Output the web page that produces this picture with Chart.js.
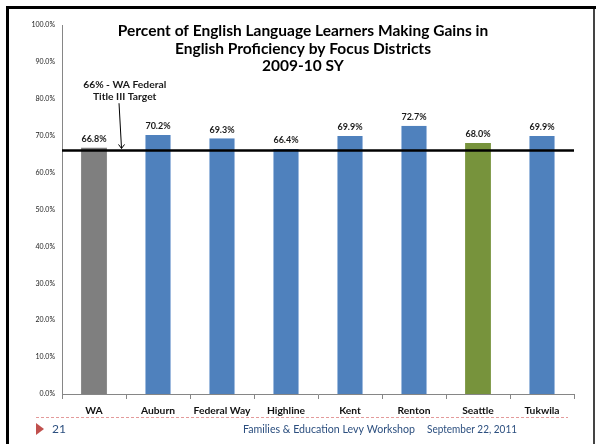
<!DOCTYPE html>
<html><head><meta charset="utf-8">
<script src="https://cdn.jsdelivr.net/npm/chart.js@4"></script>
<style>html,body{margin:0;padding:0;background:#fff}#wrap{position:relative;width:596px;height:444px}</style>
</head><body><div id="wrap"><canvas id="c" width="596" height="444"></canvas></div>
<script>
const categories = ["WA","Auburn","Federal Way","Highline","Kent","Renton","Seattle","Tukwila"];
const values = [66.8,70.2,69.3,66.4,69.9,72.7,68.0,69.9];
const barColors = ["#7f7f7f","#4f81bd","#4f81bd","#4f81bd","#4f81bd","#4f81bd","#77933c","#4f81bd"];
const targetValue = 66;
const titleLines = ["Percent of English Language Learners Making Gains in","English Proficiency by Focus Districts","2009-10 SY"];
const annotationLines = ["66% - WA Federal","Title III Target"];
const footerNumber = "21";
const footerLeft = "Families & Education Levy Workshop";
const footerRight = "September 22, 2011";
const FONT = "Lato, 'DejaVu Sans', sans-serif";

const overlay = {
  id:'overlay',
  afterDatasetsDraw(chart){
    const ctx = chart.ctx, a = chart.chartArea, xs = chart.scales.x, ys = chart.scales.y;
    ctx.save();
    ctx.fillStyle = '#1a1a1a'; ctx.font = 'bold 9px ' + FONT; ctx.textAlign='center'; ctx.textBaseline='middle';
    const meta = chart.getDatasetMeta(0);
    meta.data.forEach((b,i)=>{ ctx.fillText(values[i].toFixed(1)+'%', b.x, b.y-8.5); });
    const ty = ys.getPixelForValue(targetValue);
    ctx.strokeStyle='#000'; ctx.lineWidth=2.5;
    ctx.beginPath(); ctx.moveTo(a.left, ty); ctx.lineTo(a.right, ty); ctx.stroke();
    const x0 = xs.getPixelForValue(0), x1 = xs.getPixelForValue(1);
    const ax = x0 + (x1-x0)*0.43;
    ctx.font = 'bold 10.3px ' + FONT; ctx.fillStyle='#1a1a1a';
    const cx = x0 + (x1-x0)*0.48;
    ctx.fillText(annotationLines[0], cx, ys.getPixelForValue(83.7));
    ctx.fillText(annotationLines[1], cx, ys.getPixelForValue(80.7));
    ctx.strokeStyle='#000'; ctx.lineWidth=1;
    const ay0 = ys.getPixelForValue(78.8);
    ctx.beginPath(); ctx.moveTo(ax-2.5, ay0); ctx.lineTo(ax, ty-2); ctx.stroke();
    ctx.beginPath(); ctx.moveTo(ax-3, ty-6); ctx.lineTo(ax, ty-2); ctx.lineTo(ax+3, ty-6); ctx.stroke();
    ctx.restore();
  },
  beforeDraw(chart){
    const ctx = chart.ctx;
    ctx.save();
    ctx.fillStyle='#fff'; ctx.fillRect(0,0,chart.width,chart.height);
    ctx.fillStyle='#000';
    ctx.fillRect(6,6,590,3);
    ctx.fillRect(6,6,3,438);
    ctx.fillStyle='#444'; ctx.fillRect(593,9,2,435);
    ctx.fillStyle='#000'; ctx.font='bold 15.5px ' + FONT; ctx.textAlign='center'; ctx.textBaseline='middle';
    titleLines.forEach((t,i)=>ctx.fillText(t, 303, 31 + i*17.5));
    ctx.strokeStyle='#e39a9a'; ctx.lineWidth=1; ctx.setLineDash([3,2]);
    ctx.beginPath(); ctx.moveTo(36,417.5); ctx.lineTo(568,417.5); ctx.stroke();
    ctx.setLineDash([]);
    ctx.fillStyle='#c0504d';
    ctx.beginPath(); ctx.moveTo(36,423); ctx.lineTo(44,429); ctx.lineTo(36,435); ctx.closePath(); ctx.fill();
    ctx.fillStyle='#2c4f7f'; ctx.font='12px ' + FONT; ctx.textAlign='left';
    ctx.fillText(footerNumber, 52, 429);
    ctx.fillText(footerLeft, 243, 429, 172);
    ctx.fillText(footerRight, 427, 429, 90);
    ctx.restore();
  }
};

new Chart(document.getElementById('c'), {
  type:'bar',
  data:{labels:categories, datasets:[{data:values, backgroundColor:barColors, borderColor:barColors.map(c=>c==='#4f81bd'?'#9fbbe0':c), borderWidth:{left:1,right:1,top:0,bottom:0}, categoryPercentage:1, barPercentage:0.41}]},
  options:{
    responsive:false, animation:false, devicePixelRatio:1,
    layout:{padding:{left:0,right:22,top:25,bottom:0}},
    plugins:{legend:{display:false}, tooltip:{enabled:false}},
    scales:{
      y:{min:0,max:100,
        ticks:{stepSize:10, callback:v=>v.toFixed(1)+'%', font:{size:7,family:FONT}, color:'#222', padding:3},
        grid:{display:false, drawTicks:true, tickLength:4},
        border:{color:'#868686', width:1},
        afterFit(s){s.width=62;}
      },
      x:{
        ticks:{font:{size:10.3,weight:'bold',family:FONT}, color:'#111', padding:5},
        grid:{display:true, drawOnChartArea:false, offset:true, tickLength:5, color:'#868686'},
        border:{color:'#868686', width:1},
        afterFit(s){s.height=50;}
      }
    }
  },
  plugins:[overlay]
});
</script></body></html>
